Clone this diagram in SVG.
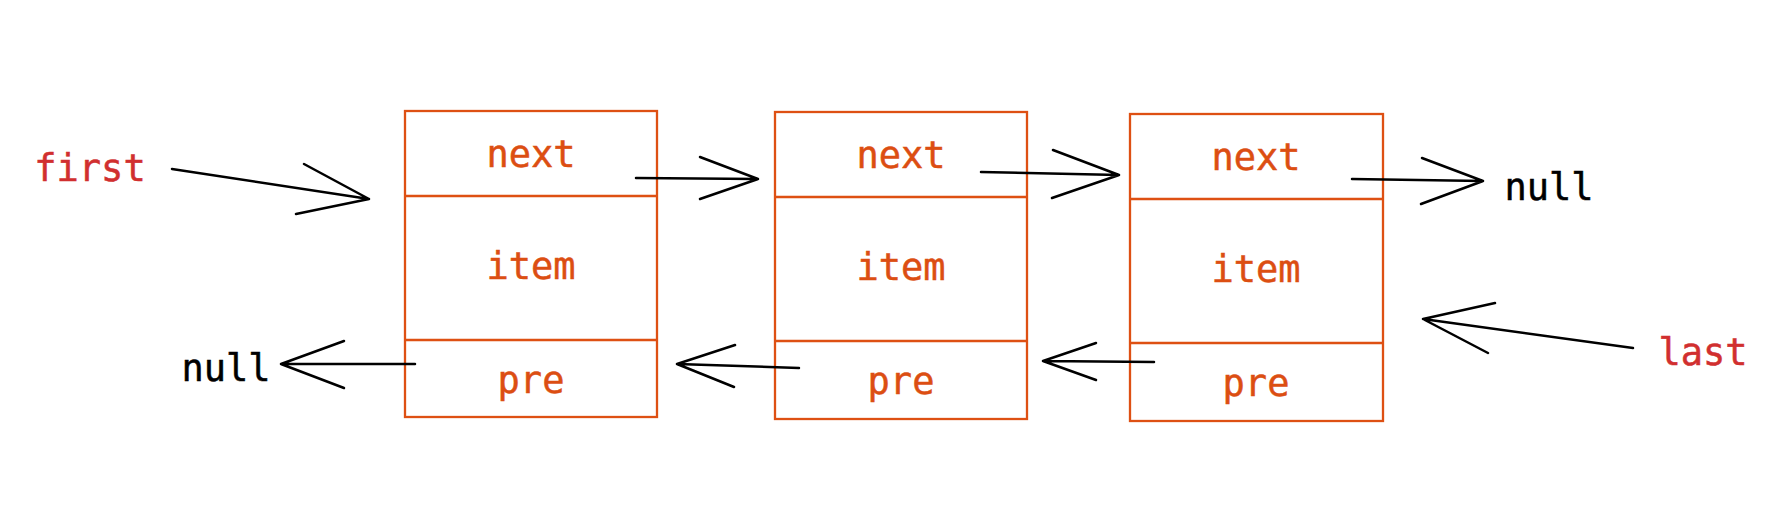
<svg xmlns="http://www.w3.org/2000/svg" width="1774" height="507" viewBox="0 0 1774 507">
<style>
.box{fill:none;stroke:#de5013;stroke-width:2.3}
.t{font-family:"DejaVu Sans Mono",monospace;font-size:37px;text-anchor:middle;stroke-width:0.5;paint-order:stroke}
.o{fill:#dc4e12;stroke:#dc4e12}
.r{fill:#d12f2f;stroke:#d12f2f}
.k{fill:#000;stroke:#000}
.c{fill:none;stroke:#000;stroke-width:2.5;stroke-linecap:round;stroke-linejoin:round}
</style>
<rect width="1774" height="507" fill="#fff"/>
<g id="label-first"><text class="t r" x="90" y="181">first</text></g>
<g id="label-last"><text class="t r" x="1703" y="365">last</text></g>
<g id="null-right"><text class="t k" x="1549" y="200">null</text></g>
<g id="null-left"><text class="t k" x="226" y="381">null</text></g>
<g id="node1">
<rect class="box" x="405" y="111" width="252" height="306"/>
<line class="box" x1="405" y1="196" x2="657" y2="196"/>
<line class="box" x1="405" y1="340" x2="657" y2="340"/>
<text class="t o" x="531" y="167">next</text>
<text class="t o" x="531" y="279">item</text>
<text class="t o" x="531" y="393">pre</text>
</g>
<g id="node2">
<rect class="box" x="775" y="112" width="252" height="307"/>
<line class="box" x1="775" y1="197" x2="1027" y2="197"/>
<line class="box" x1="775" y1="341" x2="1027" y2="341"/>
<text class="t o" x="901" y="168">next</text>
<text class="t o" x="901" y="280">item</text>
<text class="t o" x="901" y="394">pre</text>
</g>
<g id="node3">
<rect class="box" x="1130" y="114" width="253" height="307"/>
<line class="box" x1="1130" y1="199" x2="1383" y2="199"/>
<line class="box" x1="1130" y1="343" x2="1383" y2="343"/>
<text class="t o" x="1256" y="170">next</text>
<text class="t o" x="1256" y="282">item</text>
<text class="t o" x="1256" y="396">pre</text>
</g>
<g id="connectors">
<path class="c" d="M172,169 L369,199 M304,164 L369,199 L296,214"/>
<path class="c" d="M636,178 L758,179 M700,157 L758,179 L700,199"/>
<path class="c" d="M981,172 L1119,175 M1053,150 L1119,175 L1052,198"/>
<path class="c" d="M1352,179 L1483,181 M1422,158 L1483,181 L1421,204"/>
<path class="c" d="M1633,348 L1423,319 M1495,303 L1423,319 L1488,353"/>
<path class="c" d="M415,364 L281,364 M344,341 L281,364 L344,388"/>
<path class="c" d="M799,368 L677,364 M735,345 L677,364 L734,387"/>
<path class="c" d="M1154,362 L1043,361 M1096,343 L1043,361 L1096,380"/>
</g>
</svg>
